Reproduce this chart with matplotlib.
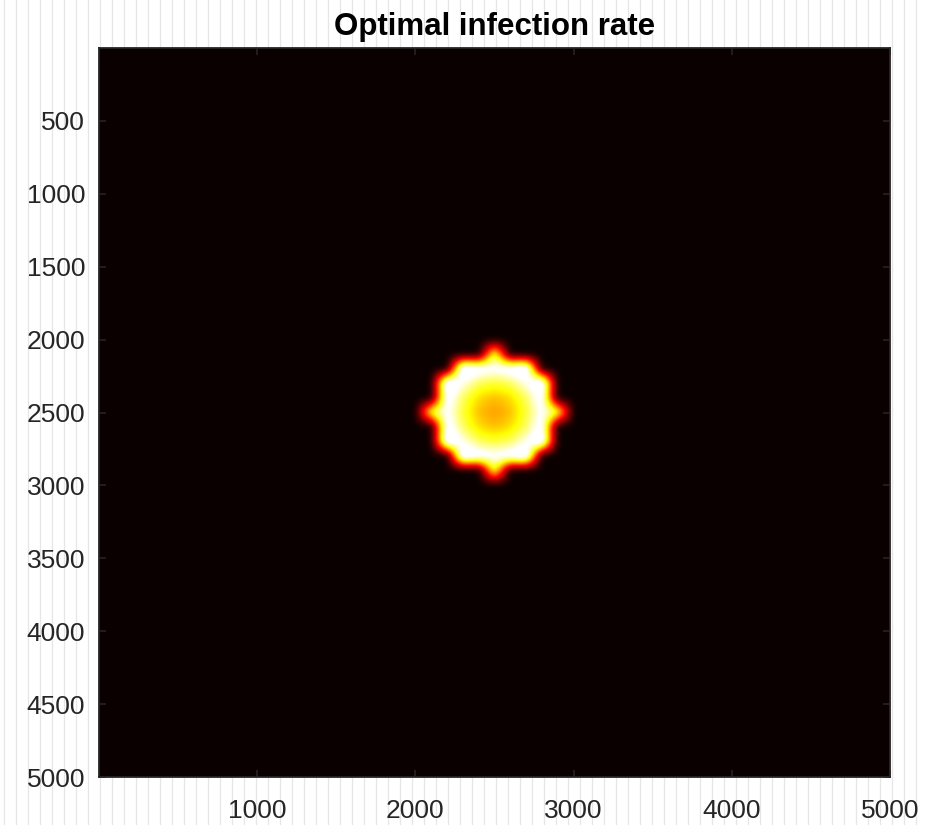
import numpy as np
import matplotlib
matplotlib.use("Agg")
import matplotlib.pyplot as plt
from matplotlib.lines import Line2D

plt.rcParams["font.family"] = ["Liberation Sans", "DejaVu Sans"]

# lattice of the spread model (cell centres every cell_size, 0..domain_size)
domain_size = 5000
cell_size = 100
center = (2500, 2500)
# half width (in cells) of every infected lattice row, top to bottom
row_half_widths = [0, 2, 3, 3, 4, 3, 3, 2, 0]

# infection rate of a cell: value at the centre and growth with radius^2
rate_center = 0.6
rate_growth = 4.8e-6
# damping of a cell by its number of infected 4-neighbours (0..4)
neighbour_factor = [0.0, 0.6, 0.95, 1.0, 1.0]
smooth_sigma = 22

x_ticks = [1000, 2000, 3000, 4000, 5000]
y_ticks = [500, 1000, 1500, 2000, 2500, 3000, 3500, 4000, 4500, 5000]

# coarse lattice values
cells = np.arange(0, domain_size + cell_size, cell_size)
infected = np.zeros((len(cells), len(cells)), dtype=bool)
ci = int(round(center[0] / cell_size))
cj = int(round(center[1] / cell_size))
n_rows = len(row_half_widths)
for k, hw in enumerate(row_half_widths):
    j = k - n_rows // 2
    infected[cj + j, ci - hw:ci + hw + 1] = True

neigh = np.zeros(infected.shape, dtype=int)
neigh[1:, :] += infected[:-1, :]
neigh[:-1, :] += infected[1:, :]
neigh[:, 1:] += infected[:, :-1]
neigh[:, :-1] += infected[:, 1:]

cx, cy = np.meshgrid(cells, cells)
r2 = (cx - center[0]) ** 2 + (cy - center[1]) ** 2
rate = (rate_center + rate_growth * r2) * np.take(neighbour_factor, neigh) * infected

# bilinear resampling onto a fine grid, then a light gaussian smoothing
res = 5
n = domain_size // res
fine = (np.arange(n) + 0.5) * res
eye = np.eye(len(cells))
W = np.stack([np.interp(fine, cells, eye[:, m]) for m in range(len(cells))], axis=1)
field = W @ rate @ W.T

s = smooth_sigma / res
fq = np.fft.fftfreq(n)
kernel = np.exp(-2 * (np.pi * s) ** 2 * (fq[:, None] ** 2 + fq[None, :] ** 2))
field = np.clip(np.real(np.fft.ifft2(np.fft.fft2(field) * kernel)), 0, None)

fig = plt.figure(figsize=(9.25, 8.25), dpi=100)
fig.patch.set_facecolor("white")

# light vertical stripes of the figure background
for px in np.arange(4, 925, 12):
    fig.add_artist(Line2D([px / 925, px / 925], [0, 1], transform=fig.transFigure,
                          color="#e6e6e6", lw=0.9, zorder=-10))

ax = fig.add_axes([99 / 925, 1 - 777 / 825, (890 - 99) / 925, (777 - 48) / 825])
ax.imshow(field, cmap="hot", vmin=0, vmax=1, origin="upper",
          extent=[0, domain_size, domain_size, 0], aspect="auto",
          interpolation="bilinear")

ax.set_xticks(x_ticks)
ax.set_yticks(y_ticks)
ax.set_xlim(0, domain_size)
ax.set_ylim(domain_size, 0)
ax.tick_params(direction="in", length=5, width=1.1, color="#262626",
               labelcolor="#262626", labelsize=19, top=True, right=True)
ax.tick_params(axis="x", pad=16)
ax.tick_params(axis="y", pad=10)
for sp in ax.spines.values():
    sp.set_color("#262626")
    sp.set_linewidth(1.3)

ax.set_title("Optimal infection rate", fontsize=22.5, fontweight="bold", pad=9)

fig.savefig("out.png", dpi=100)
